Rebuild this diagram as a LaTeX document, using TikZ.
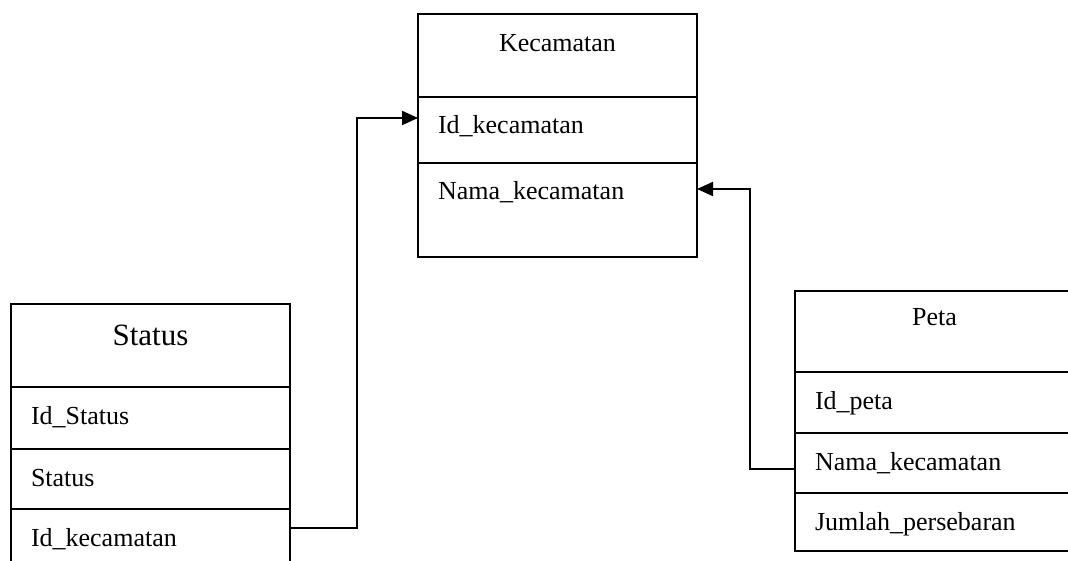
\documentclass[tikz,border=0pt]{standalone}
\usepackage{fontspec}
\setmainfont{Liberation Serif}
\usetikzlibrary{positioning,arrows.meta}

\begin{document}
\begin{tikzpicture}[x=1pt,y=-1pt,
        cell/.style={draw,line width=1.8pt,outer sep=0pt,inner xsep=20pt,inner ysep=0pt,
            text width=239pt,align=left,text height=37pt,font=\fontsize{26}{31}\selectfont},
        head/.style={cell,align=center,anchor=north west},
        link/.style={line width=2pt,-{Triangle[length=16pt,width=14pt]}}]
            \clip (0,0) rectangle (1068,561);
            \node[head,text height=38pt,text depth=45pt] (kec) at (418,14) {Kecamatan};
            \node[cell,text depth=29pt,below=0pt of kec] (kid) {Id\_kecamatan};
            \node[cell,text depth=57pt,below=0pt of kid] (knama) {Nama\_kecamatan};
            \node[head,text height=41pt,text depth=42pt,font=\fontsize{31}{37}\selectfont] (sta) at (11,304) {Status};
            \node[cell,text depth=25pt,below=0pt of sta] (sid) {Id\_Status};
            \node[cell,text depth=23pt,below=0pt of sid] (sst) {Status};
            \node[cell,text depth=23pt,below=0pt of sst] (sidk) {Id\_kecamatan};
            \node[head,text height=35pt,text depth=46pt] (peta) at (795,291) {Peta};
            \node[cell,text depth=24pt,below=0pt of peta] (pid) {Id\_peta};
            \node[cell,text depth=23pt,below=0pt of pid] (pnama) {Nama\_kecamatan};
            \node[cell,text depth=21pt,below=0pt of pnama] (pjml) {Jumlah\_persebaran};
            \draw[link] ([yshift=11pt]sidk.east) -- ++(67,0) |- ([yshift=12pt]kid.west);
            \draw[link] ([yshift=-6pt]pnama.west) -- ++(-45,0) |- ([yshift=21pt]knama.east);
\end{tikzpicture}
\end{document}
